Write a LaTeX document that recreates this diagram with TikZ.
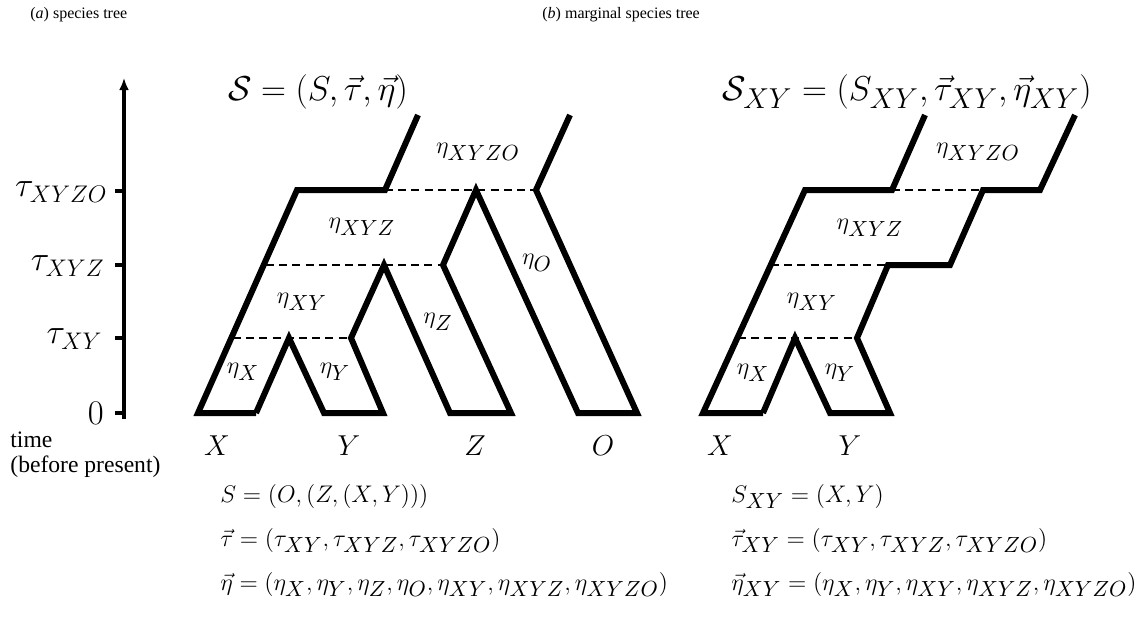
\documentclass[tikz,border=0pt]{standalone}
\usepackage{fontspec}
\newfontfamily\timesf{Liberation Serif}
\usetikzlibrary{arrows.meta}
\DeclareMathSizes{17}{17}{13.6}{10}
\DeclareMathSizes{16}{16}{12.8}{9.5}
\DeclareMathSizes{13}{13}{10.7}{8}
\DeclareMathSizes{15}{15}{12}{9}
\begin{document}
\begin{tikzpicture}[x=0.5pt,y=-0.5pt,
  tree/.style={line width=3pt, line join=miter},
  lvl/.style={line width=1.2pt, dash pattern=on 4pt off 2.6pt},
  axisline/.style={line width=2pt},
  eta/.style={font=\fontsize{13}{15}\selectfont, inner sep=0pt},
  big/.style={font=\fontsize{17}{20}\selectfont, inner sep=0pt},
  axlab/.style={font=\fontsize{16}{19}\selectfont, inner sep=0pt, anchor=east},
  leaf/.style={font=\fontsize{15}{18}\selectfont, inner sep=0pt},
  formula/.style={font=\fontsize{13}{15}\selectfont, inner sep=0pt, anchor=base west},
  txt/.style={font=\timesf\fontsize{11.8}{13}\selectfont, inner sep=0pt, anchor=west},
  paneltxt/.style={font=\timesf\fontsize{8}{10}\selectfont, inner sep=0pt, anchor=west}]
\useasboundingbox (0,0) rectangle (1136,618);

% panel labels
\node[paneltxt] (pa) at (30,15) {(\textit{a}) species tree};
\node[paneltxt] (pb) at (542,15) {(\textit{b}) marginal species tree};

% time axis
\coordinate (axb) at (124,419);
\coordinate (axt) at (124,78);
\draw[axisline,-{Latex[length=6pt,width=5pt]}] (axb) -- (axt);
\foreach \n/\y in {t0/413,t1/338,t2/265,t3/191}{
  \coordinate (\n) at (124,\y);
  \draw[axisline] (\n) -- ++(-9,0);
}
\node[axlab] (l3) at (108,192) {$\tau_{XYZO}$};
\node[axlab] (l2) at (105,266) {$\tau_{XYZ}$};
\node[axlab] (l1) at (103,339) {$\tau_{XY}$};
\node[axlab] (l0) at (104,413) {$0$};
\node[txt] (time) at (10,440) {time};
\node[txt] (bp) at (10,467) {(before present)};

% ---------- left tree ----------
\coordinate (a1) at (256,413); \coordinate (a2) at (198,413);
\coordinate (a3) at (297,190); \coordinate (a4) at (385,190);
\coordinate (a5) at (418,115);
\draw[tree] (a1) -- (a2) -- (a3) -- (a4) -- (a5);
\coordinate (b1) at (289,338); \coordinate (b2) at (324,413);
\coordinate (b3) at (383,413); \coordinate (b4) at (351,338);
\coordinate (b5) at (384,265); \coordinate (b6) at (450,413);
\coordinate (b7) at (511,413); \coordinate (b8) at (443,265);
\coordinate (b9) at (476,190); \coordinate (b10) at (578,413);
\coordinate (b11) at (637,413); \coordinate (b12) at (536,190);
\coordinate (b13) at (570,115);
\draw[tree] (a1) -- (b1) -- (b2) -- (b3) -- (b4) -- (b5) -- (b6) -- (b7)
  -- (b8) -- (b9) -- (b10) -- (b11) -- (b12) -- (b13);
\coordinate (d1) at (233,338); \coordinate (d2) at (266,265);
\draw[lvl] (d1) -- (b4);
\draw[lvl] (d2) -- (b8);
\draw[lvl] (a4) -- (b12);

\node[eta] (ex) at (243,372) {$\eta_{X}$};
\node[eta] (ey) at (335,372) {$\eta_{Y}$};
\node[eta] (exy) at (302,302) {$\eta_{XY}$};
\node[eta] (ez) at (438,322) {$\eta_{Z}$};
\node[eta] (exyz) at (362,227) {$\eta_{XYZ}$};
\node[eta] (eo) at (537,263) {$\eta_{O}$};
\node[eta] (exyzo) at (478,152) {$\eta_{XYZO}$};

\node[leaf] (lx) at (217,446) {$X$};
\node[leaf] (ly) at (349,446) {$Y$};
\node[leaf] (lz) at (475,446) {$Z$};
\node[leaf] (lo) at (603,446) {$O$};

\node[big] (tl) at (318,92) {$\mathcal{S}=(S,\vec{\tau},\vec{\eta})$};

\node[formula] (f1) at (220,502) {$S=(O,(Z,(X,Y)))$};
\node[formula] (f2) at (220,546) {$\vec{\tau}=(\tau_{XY},\tau_{XYZ},\tau_{XYZO})$};
\node[formula] (f3) at (220,590) {$\vec{\eta}=(\eta_{X},\eta_{Y},\eta_{Z},\eta_{O},\eta_{XY},\eta_{XYZ},\eta_{XYZO})$};

% ---------- right tree ----------
\coordinate (c1) at (763,413); \coordinate (c2) at (703,413);
\coordinate (c3) at (805,190); \coordinate (c4) at (892,190);
\coordinate (c5) at (925,115);
\draw[tree] (c1) -- (c2) -- (c3) -- (c4) -- (c5);
\coordinate (e1) at (795,338); \coordinate (e2) at (830,413);
\coordinate (e3) at (890,413); \coordinate (e4) at (857,338);
\coordinate (e5) at (888,265); \coordinate (e6) at (950,265);
\coordinate (e7) at (983,190); \coordinate (e8) at (1040,190);
\coordinate (e9) at (1075,115);
\draw[tree] (c1) -- (e1) -- (e2) -- (e3) -- (e4) -- (e5) -- (e6) -- (e7)
  -- (e8) -- (e9);
\coordinate (g1) at (738,338); \coordinate (g2) at (771,265);
\draw[lvl] (g1) -- (e4);
\draw[lvl] (g2) -- (e5);
\draw[lvl] (c4) -- (e7);

\node[eta] (rex) at (753,373) {$\eta_{X}$};
\node[eta] (rey) at (840,373) {$\eta_{Y}$};
\node[eta] (rexy) at (812,302) {$\eta_{XY}$};
\node[eta] (rexyz) at (870,228) {$\eta_{XYZ}$};
\node[eta] (rexyzo) at (978,152) {$\eta_{XYZO}$};

\node[leaf] (rlx) at (720,446) {$X$};
\node[leaf] (rly) at (850,446) {$Y$};

\node[big] (tr) at (907,92) {$\mathcal{S}_{XY}=(S_{XY},\vec{\tau}_{XY},\vec{\eta}_{XY})$};

\node[formula] (g1f) at (731,502) {$S_{XY}=(X,Y)$};
\node[formula] (g2f) at (731,546) {$\vec{\tau}_{XY}=(\tau_{XY},\tau_{XYZ},\tau_{XYZO})$};
\node[formula] (g3f) at (731,590) {$\vec{\eta}_{XY}=(\eta_{X},\eta_{Y},\eta_{XY},\eta_{XYZ},\eta_{XYZO})$};
\end{tikzpicture}
\end{document}
